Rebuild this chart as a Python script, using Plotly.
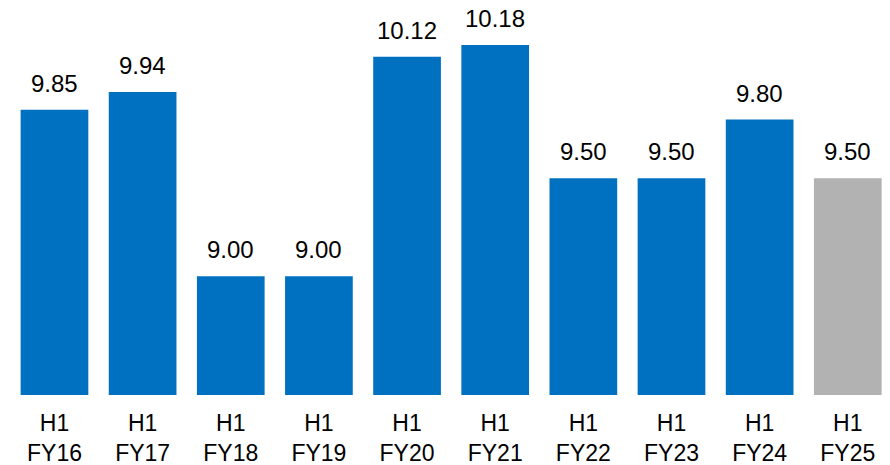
import plotly.graph_objects as go

categories = ["H1<br>FY16", "H1<br>FY17", "H1<br>FY18", "H1<br>FY19", "H1<br>FY20",
              "H1<br>FY21", "H1<br>FY22", "H1<br>FY23", "H1<br>FY24", "H1<br>FY25"]
values = [9.85, 9.94, 9.00, 9.00, 10.12, 10.18, 9.50, 9.50, 9.80, 9.50]
labels = ["9.85", "9.94", "9.00", "9.00", "10.12", "10.18", "9.50", "9.50", "9.80", "9.50"]
colors = ["#0070C0"] * 9 + ["#B2B2B2"]

FONT = "Liberation Sans, Arial, sans-serif"

fig = go.Figure(go.Bar(x=categories, y=values, marker=dict(color=colors, line=dict(width=0)),
                       width=0.768, hoverinfo="skip"))

for c, v, t in zip(categories, values, labels):
    fig.add_annotation(x=c, y=v, text=t, showarrow=False, yanchor="bottom", yshift=11,
                       font=dict(family=FONT, size=24, color="#000000"))

fig.update_layout(
    width=890, height=465,
    margin=dict(l=0, r=0, t=0, b=70),
    paper_bgcolor="white", plot_bgcolor="white",
    showlegend=False,
    font=dict(family=FONT, size=24, color="#000000"),
    xaxis=dict(type="category", range=[-0.618, 9.479], showgrid=False, showline=False,
               zeroline=False, ticks="", ticklabelstandoff=12,
               tickfont=dict(family=FONT, size=23, color="#000000")),
    yaxis=dict(range=[8.394, 10.41], showgrid=False, showline=False, zeroline=False,
               showticklabels=False, ticks=""),
)

fig.write_html("out.html")
